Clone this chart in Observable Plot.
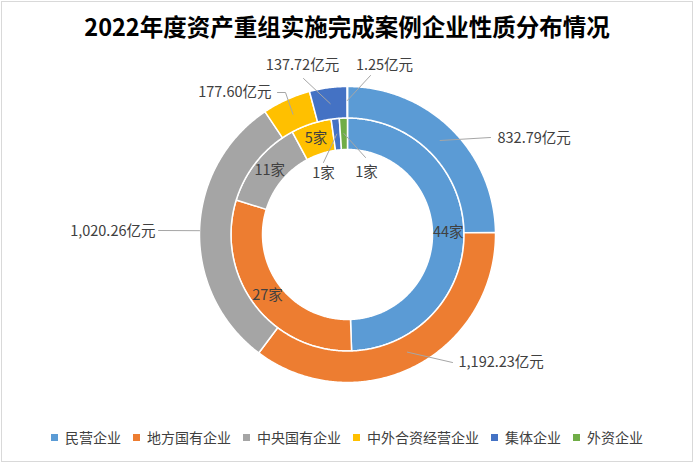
<!DOCTYPE html>
<html>
<head>
<meta charset="utf-8">
<script src="https://cdn.jsdelivr.net/npm/d3@7"></script>
<script src="https://cdn.jsdelivr.net/npm/@observablehq/plot@0.6"></script>
<style>
  html, body { margin: 0; padding: 0; background: #fff; }
  body { width: 694px; height: 463px; position: relative; overflow: hidden; font-family: "Noto Sans CJK SC", "Noto Sans", sans-serif; }
  #frame { position: absolute; left: 1px; top: 1px; width: 690px; height: 459px; border: 1px solid #d9d9d9; box-sizing: content-box; }
  #title { position: absolute; left: 0; top: 11px; width: 694px; text-align: center; font-size: 23.5px; line-height: 30px; font-weight: bold; color: #000; }
  #chart { position: absolute; left: 0; top: 50px; }
  #legend { position: absolute; left: 0; top: 427px; width: 694px; display: flex; justify-content: center; align-items: center; font-size: 14px; line-height: 20px; color: #404040; }
  .item { display: flex; align-items: center; margin: 0 6px; }
  .sw { width: 7px; height: 7px; margin-right: 7px; }
</style>
</head>
<body>
<div id="frame"></div>
<div id="title"></div>
<div id="chart"></div>
<div id="legend"></div>
<script>
// ---- data ----
const titleText = "2022年度资产重组实施完成案例企业性质分布情况";
const categories = ["民营企业", "地方国有企业", "中央国有企业", "中外合资经营企业", "集体企业", "外资企业"];
const colors = ["#5B9BD5", "#ED7D31", "#A5A5A5", "#FFC000", "#4472C4", "#70AD47"];
const companyCounts = [44, 27, 11, 5, 1, 1];
const amounts = [832.79, 1192.23, 1020.26, 177.60, 137.72, 1.25];
const countLabels = ["44家", "27家", "11家", "5家", "1家", "1家"];
const amountLabels = ["832.79亿元", "1,192.23亿元", "1,020.26亿元", "177.60亿元", "137.72亿元", "1.25亿元"];

// ---- layout (ring radii and label placement, in px relative to centre, y up) ----
const innerRing = [85, 116.5];
const outerRing = [116.5, 148];
const outerLabelLayout = [
  {x: 150, y: 96, anchor: "start", elbow: [[143, 97]], r: 132},
  {x: 111, y: -128, anchor: "start", elbow: [[105, -128]], r: 132},
  {x: -192, y: 3, anchor: "end", elbow: [[-189, 4]], r: 148},
  {x: -76, y: 142, anchor: "end", elbow: [[-70, 142], [-62, 142]], r: 132},
  {x: -45, y: 169, anchor: "middle", elbow: [[-44, 156]], r: 132},
  {x: 37, y: 169, anchor: "middle", elbow: [[23, 159]], r: 134}
];
const innerLabelLayout = [
  null, null, null, null,
  {x: -24, y: 61, elbow: [[-24, 72]], r: 101},
  {x: 19, y: 62, elbow: [[18, 77]], r: 101}
];

const pie = d3.pie().sort(null).value(d => d);
const pt = (a, r) => [r * Math.sin(a), r * Math.cos(a)];

function ringPolys(values, [r0, r1], ring) {
  const arcs = pie(values);
  const pts = [];
  arcs.forEach((a, i) => {
    const n = Math.max(2, Math.ceil((a.endAngle - a.startAngle) / (Math.PI / 360)));
    const key = ring + i;
    for (let k = 0; k <= n; k++) {
      const t = a.startAngle + (a.endAngle - a.startAngle) * k / n;
      const [x, y] = pt(t, r1);
      pts.push({key, category: categories[i], x, y});
    }
    for (let k = n; k >= 0; k--) {
      const t = a.startAngle + (a.endAngle - a.startAngle) * k / n;
      const [x, y] = pt(t, r0);
      pts.push({key, category: categories[i], x, y});
    }
  });
  return {pts, arcs};
}

const inner = ringPolys(companyCounts, innerRing, "in");
const outer = ringPolys(amounts, outerRing, "out");
const arcPoints = inner.pts.concat(outer.pts);

const labels = [];
const leaders = [];
outer.arcs.forEach((a, i) => {
  const L = outerLabelLayout[i];
  const mid = (a.startAngle + a.endAngle) / 2;
  labels.push({x: L.x, y: L.y, text: amountLabels[i], anchor: L.anchor});
  const line = L.elbow.concat([pt(mid, L.r)]);
  line.forEach(([x, y]) => leaders.push({key: "o" + i, x, y}));
});
inner.arcs.forEach((a, i) => {
  const L = innerLabelLayout[i];
  const mid = (a.startAngle + a.endAngle) / 2;
  const rm = (innerRing[0] + innerRing[1]) / 2;
  if (!L) {
    const [x, y] = pt(mid, rm);
    labels.push({x, y, text: countLabels[i], anchor: "middle"});
  } else {
    labels.push({x: L.x, y: L.y, text: countLabels[i], anchor: "middle"});
    const line = L.elbow.concat([pt(mid, L.r)]);
    line.forEach(([x, y]) => leaders.push({key: "i" + i, x, y}));
  }
});

const chart = Plot.plot({
  width: 694,
  height: 365,
  margin: 0,
  x: {domain: [-347, 347], axis: null},
  y: {domain: [-181, 184], axis: null},
  color: {domain: categories, range: colors},
  style: {background: "transparent", overflow: "visible", fontFamily: "Noto Sans CJK SC, sans-serif"},
  marks: [
    Plot.line(arcPoints, {x: "x", y: "y", z: "key", fill: "category", stroke: "white", strokeWidth: 1.5, curve: "linear-closed"}),
    Plot.line(leaders, {x: "x", y: "y", z: "key", stroke: "#A6A6A6", strokeWidth: 1}),
    Plot.text(labels.filter(d => d.anchor === "start"), {x: "x", y: "y", text: "text", textAnchor: "start", fill: "#404040", fontSize: 14.5}),
    Plot.text(labels.filter(d => d.anchor === "end"), {x: "x", y: "y", text: "text", textAnchor: "end", fill: "#404040", fontSize: 14.5}),
    Plot.text(labels.filter(d => d.anchor === "middle"), {x: "x", y: "y", text: "text", textAnchor: "middle", fill: "#404040", fontSize: 14.5})
  ]
});
document.getElementById("chart").appendChild(chart);
document.getElementById("title").textContent = titleText;

const legend = document.getElementById("legend");
categories.forEach((c, i) => {
  const item = document.createElement("div");
  item.className = "item";
  const sw = document.createElement("span");
  sw.className = "sw";
  sw.style.background = colors[i];
  const tx = document.createElement("span");
  tx.textContent = c;
  item.appendChild(sw);
  item.appendChild(tx);
  legend.appendChild(item);
});
</script>
</body>
</html>
